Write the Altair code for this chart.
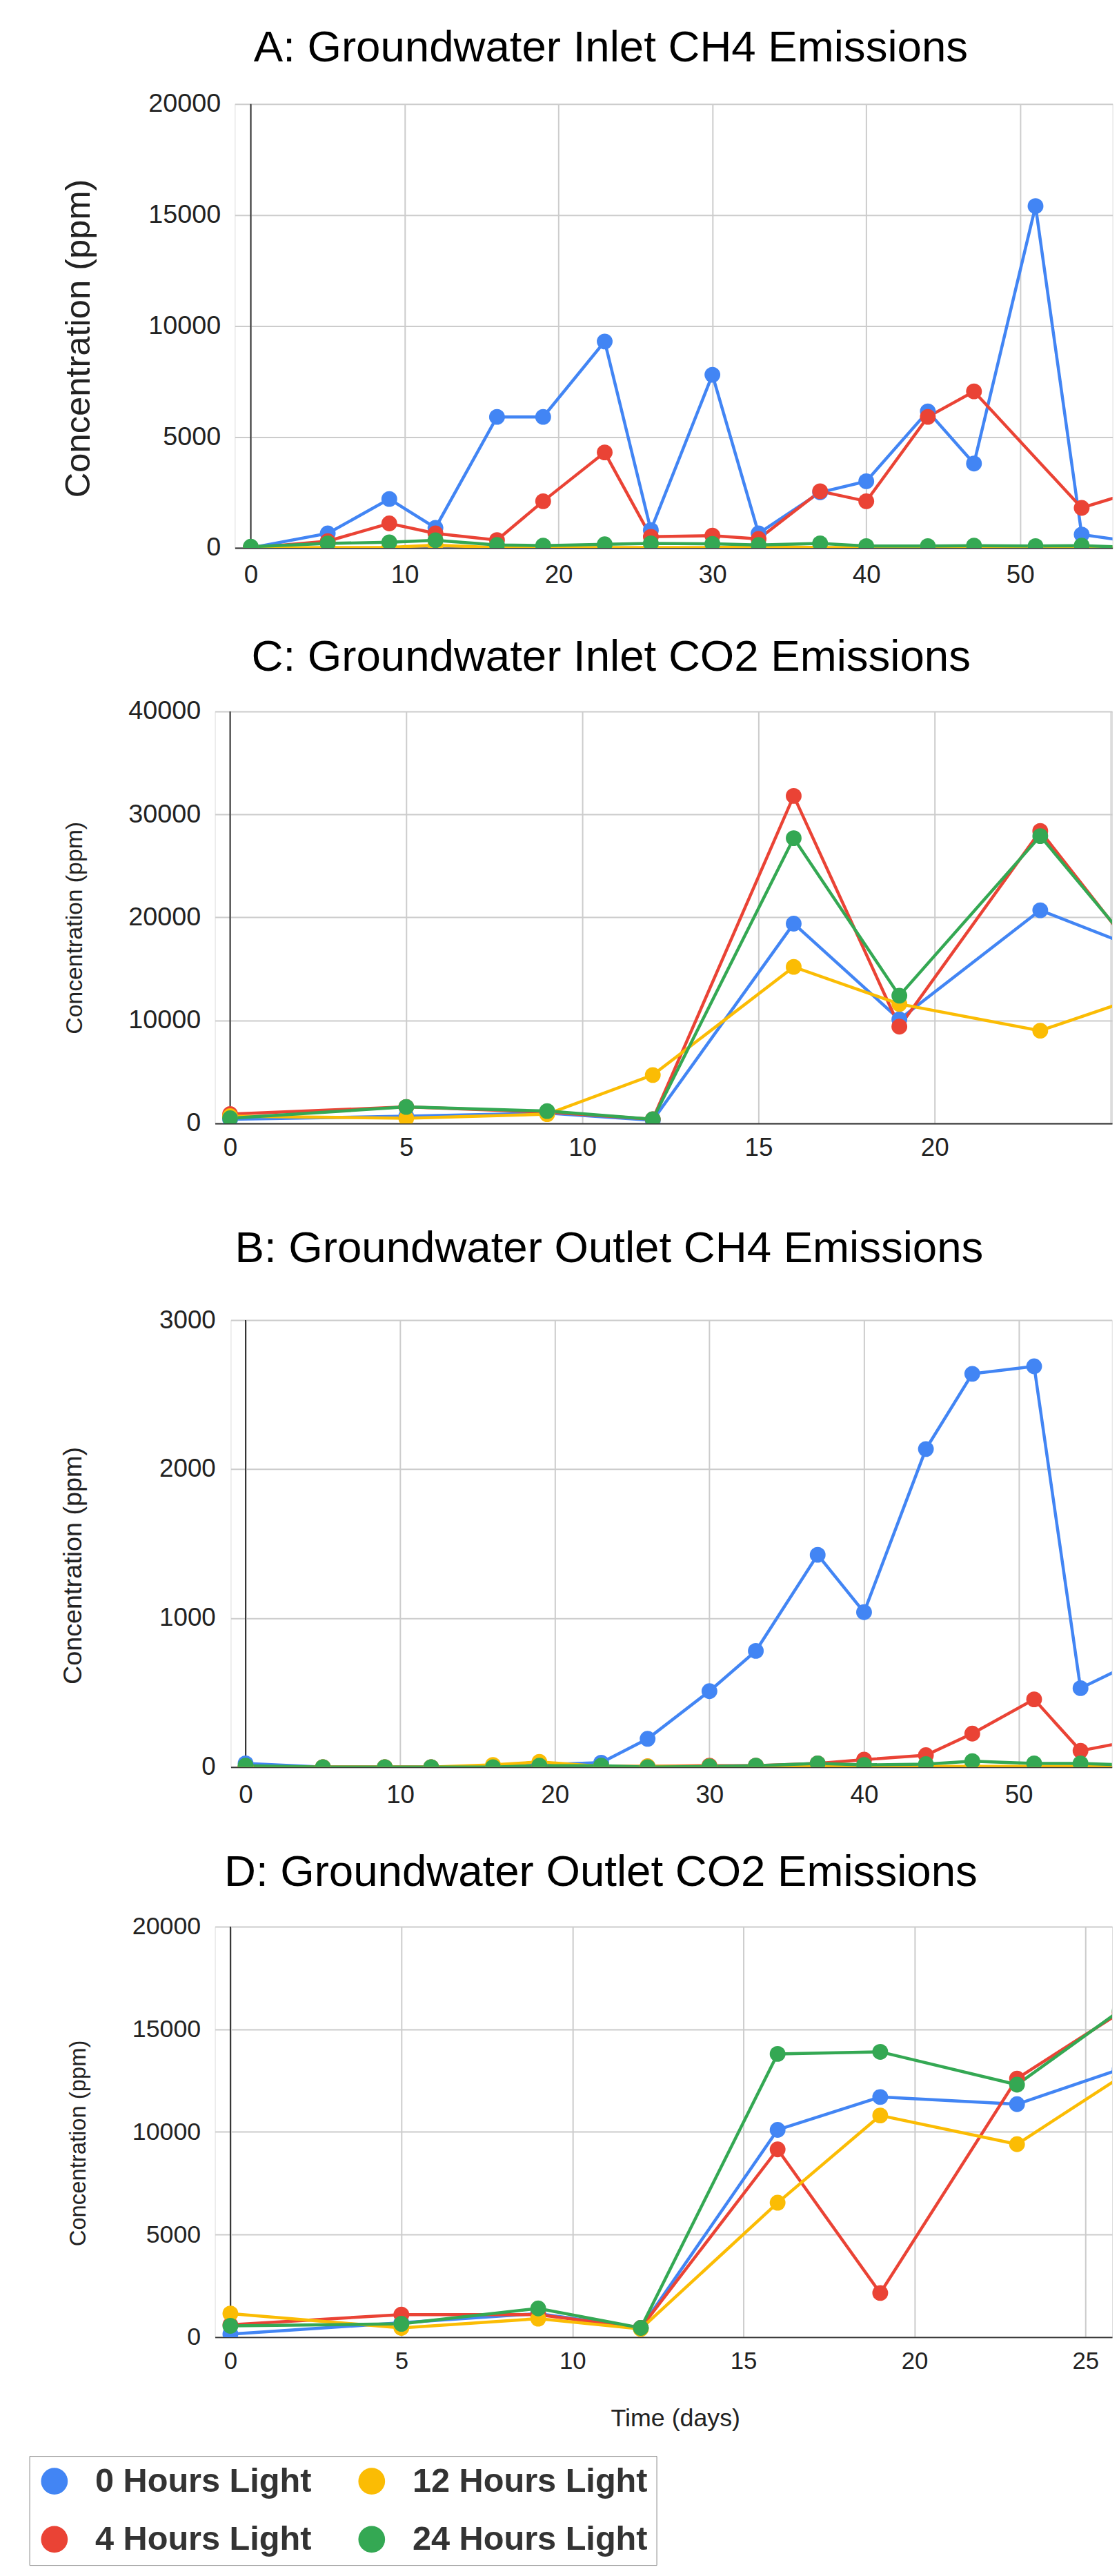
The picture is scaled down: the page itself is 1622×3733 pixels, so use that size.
import altair as alt
import pandas as pd

FONT = "Liberation Sans, Arial, sans-serif"

SERIES = ["0 Hours Light", "4 Hours Light", "12 Hours Light", "24 Hours Light"]
SERIES_COLORS = ["#4285F4", "#EA4335", "#FBBC04", "#34A853"]
# line colours use the same mapping, listed in reverse so the line scale stays separate
LINE_ORDER = SERIES[::-1]
LINE_COLORS = SERIES_COLORS[::-1]

# ---- A: Groundwater Inlet CH4 Emissions ----
days_ch4 = [0, 5, 9, 12, 16, 19, 23, 26, 30, 33, 37, 40, 44, 47, 51, 54, 58]
a_0h = [0, 650, 2200, 900, 5900, 5900, 9300, 800, 7800, 650, 2500, 3000, 6150, 3800, 15400, 600, 200]
a_4h = [0, 300, 1100, 650, 350, 2100, 4300, 500, 550, 400, 2550, 2100, 5900, 7050, None, 1800, 2650]
a_12h = [0, 10, 20, 120, 10, 10, 10, 10, 10, 60, 10, 10, 10, 10, 10, 10, 10]
a_24h = [50, 200, 250, 340, 130, 100, 160, 200, 180, 130, 200, 80, 80, 100, 80, 100, 0]

# ---- B: Groundwater Outlet CH4 Emissions ----
b_0h = [25, 0, 0, 0, 5, 15, 30, 190, 510, 780, 1425, 1040, 2135, 2640, 2690, 530, 730]
b_4h = [0, 0, 0, 0, 0, 5, 5, 5, 10, 10, 25, 50, 80, 225, 455, 110, 190]
b_12h = [0, 0, 0, 0, 15, 35, 5, 5, 5, 5, 5, 5, 5, 5, 5, 5, 5]
b_24h = [10, 0, 0, 0, 0, 10, 10, 0, 5, 10, 25, 15, 20, 40, 25, 25, 10]

# ---- C: Groundwater Inlet CO2 Emissions ----
days_co2 = [0, 5, 9, 12, 16, 19, 23, 26]
c_0h = [400, 700, 1000, 300, 19400, 10100, 20700, 16700]
c_4h = [900, 1600, 1100, 400, 31800, 9400, 28400, 15300]
c_12h = [700, 500, 900, 4700, 15200, 11600, 9000, 12500]
c_24h = [500, 1600, 1200, 400, 27700, 12400, 27900, 15600]

# ---- D: Groundwater Outlet CO2 Emissions ----
d_0h = [150, 700, 1150, 450, 10100, 11700, 11350, 13050]
d_4h = [600, 1100, 1100, 450, 9150, 2150, 12600, 15800]
d_12h = [1150, 450, 900, 400, 6550, 10800, 9400, 12650]
d_24h = [550, 650, 1400, 450, 13800, 13900, 12300, 15900]


def make_df(days, series_vals):
    rows = []
    for name, vals in zip(SERIES, series_vals):
        for d, v in zip(days, vals):
            if v is not None:
                rows.append({"day": d, "value": v, "series": name})
    return pd.DataFrame(rows)


def spacer(w):
    # empty, invisible view used only to shift the next panel to the right
    return alt.Chart(pd.DataFrame({"s": [0]})).mark_point(size=0, opacity=0).properties(
        width=w, height=1)


def panel(title, days, series_vals, p):
    df = make_df(days, series_vals)
    xaxis = dict(
        values=p["xvals"], title=p.get("xtitle", None),
        labelFont=FONT, labelFontSize=p["xlab"], labelColor="#222",
        labelPadding=p["xpad"], ticks=False, tickSize=0,
        domain=True, domainColor="#333", domainWidth=2,
        grid=True, gridColor="#cccccc", gridWidth=2,
        labelFlush=False, labelOverlap=False,
    )
    if "xlabelExpr" in p:
        xaxis["labelExpr"] = p["xlabelExpr"]
    if p.get("xtitle"):
        xaxis.update(titleFont=FONT, titleFontSize=36, titleFontWeight="normal",
                     titleColor="#222", titleX=p["xtx"], titleY=p["xty"],
                     titleAlign="center", titleBaseline="alphabetic")
    x = alt.X("day:Q", scale=alt.Scale(domain=p["xdom"], nice=False, zero=False),
              axis=alt.Axis(**xaxis))
    y = alt.Y("value:Q", scale=alt.Scale(domain=p["ydom"], nice=False),
              axis=alt.Axis(values=p["yvals"], format="d",
                            title="Concentration (ppm)", titleFont=FONT,
                            titleFontSize=p["ytfs"], titleFontWeight="normal",
                            titleColor="#222", titleAngle=270, titleAlign="center",
                            titleBaseline="middle", titleX=p["ytx"], titleY=p["yty"],
                            labelFont=FONT, labelFontSize=p["ylab"], labelColor="#222",
                            labelPadding=p["ypad"], ticks=False, tickSize=0,
                            domain=False, grid=True, gridColor="#cccccc", gridWidth=2))
    stroke = alt.Stroke("series:N", scale=alt.Scale(domain=LINE_ORDER, range=LINE_COLORS),
                        legend=None)
    color = alt.Color("series:N", scale=alt.Scale(domain=SERIES, range=SERIES_COLORS),
                      legend=alt.Legend(
                          title=None, orient="none", legendX=-43.8, legendY=3430.9, columns=2,
                          symbolType="circle", symbolSize=1520, symbolStrokeWidth=0,
                          symbolOpacity=1, labelFont=FONT, labelFontSize=49,
                          labelFontWeight="bold", labelColor="#333", labelOffset=35,
                          labelLimit=800, columnPadding=63, rowPadding=35, padding=12,
                          fillColor="white", strokeColor="#888888"))

    rule = alt.Chart(pd.DataFrame({"day": [0]})).mark_rule(
        color="#333333", strokeWidth=2).encode(x=x)
    lines = alt.Chart(df).mark_line(strokeWidth=4.5, clip=True).encode(
        x=x, y=y, stroke=stroke)
    points = alt.Chart(df).mark_point(filled=True, size=530, opacity=1,
                                      strokeWidth=0, clip=True).encode(
        x=x, y=y, color=color)
    chart = alt.layer(rule, lines, points).properties(
        width=p["w"], height=p["h"],
        title=alt.TitleParams(title, font=FONT, fontSize=64, fontWeight="normal",
                              color="#000", anchor="middle", frame="group",
                              dx=p["tdx"], offset=p["toff"]))
    return alt.hconcat(spacer(p["sp"]), chart, spacing=0)


A = panel("A: Groundwater Inlet CH4  Emissions", days_ch4, [a_0h, a_4h, a_12h, a_24h], dict(
    xdom=[-1.038, 56.004], xvals=[0, 10, 20, 30, 40, 50], xlab=37, xpad=22.3,
    ydom=[0, 20000], yvals=[0, 5000, 10000, 15000, 20000], ylab=38, ypad=20.7,
    ytfs=51, ytx=-227.7, yty=341.4, w=1280.6, h=647.4, tdx=-91.7, toff=29.7, sp=1))

C = panel("C: Groundwater Inlet CO2 Emissions", days_co2, [c_0h, c_4h, c_12h, c_24h], dict(
    xdom=[-0.43, 25.04], xvals=[0, 5, 10, 15, 20, 25], xlab=37, xpad=17.8,
    xlabelExpr="datum.value == 25 ? '' : datum.label",
    ydom=[0, 40000], yvals=[0, 10000, 20000, 30000, 40000], ylab=38, ypad=21,
    ytfs=34, ytx=-204.5, yty=315.4, w=1309, h=600.9, tdx=-76.5, toff=27.7, sp=5))

B = panel("B: Groundwater Outlet CH4 Emissions", days_ch4, [b_0h, b_4h, b_12h, b_24h], dict(
    xdom=[-0.962, 56.03], xvals=[0, 10, 20, 30, 40, 50], xlab=37, xpad=23.3,
    ydom=[0, 3000], yvals=[0, 1000, 2000, 3000], ylab=37, ypad=22.3,
    ytfs=38, ytx=-229.3, yty=357.7, w=1285.7, h=652, tdx=-90.7, toff=53.1, sp=1))

D = panel("D: Groundwater Outlet CO2 Emissions", days_co2, [d_0h, d_4h, d_12h, d_24h], dict(
    xdom=[-0.451, 25.78], xvals=[0, 5, 10, 15, 20, 25], xlab=35, xpad=18.1,
    xtitle="Time (days)", xtx=671.6, xty=129.7,
    ydom=[0, 20000], yvals=[0, 5000, 10000, 15000, 20000], ylab=36, ypad=21,
    ytfs=33, ytx=-199, yty=315.5, w=1309, h=598.8, tdx=-91.5, toff=28.5, sp=11))

top = alt.concat(A, C, columns=1, spacing=67.1, align="none")
bottom = alt.concat(B, D, columns=1, spacing=61.7, align="none")
chart = alt.concat(top, bottom, columns=1, spacing=95, align="none").properties(
    padding={"left": 33.6, "top": 17.4, "right": 0, "bottom": 0}
).configure_view(stroke=None).configure_legend(
    strokeColor="#888888", strokeWidth=2
).configure(background="white")

chart.save("out.html", embed_options={"renderer": "svg", "actions": False})
